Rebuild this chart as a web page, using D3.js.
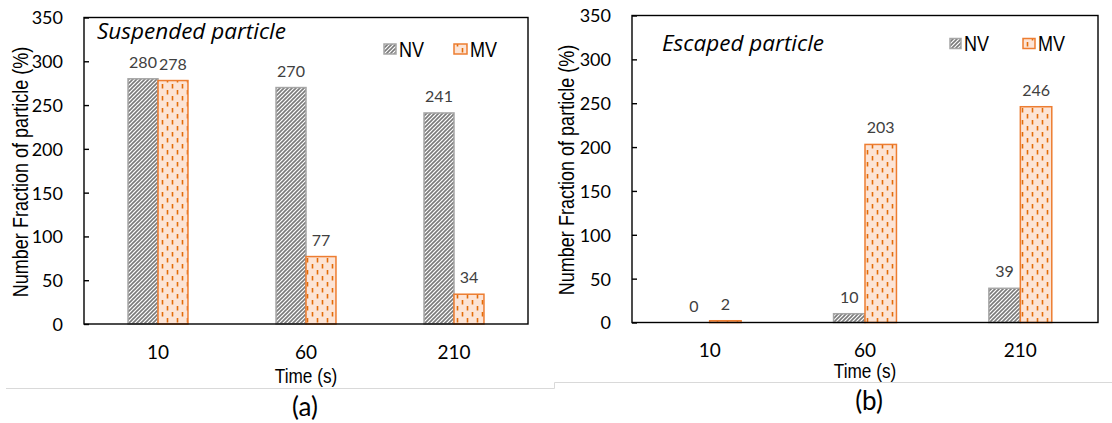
<!DOCTYPE html>
<html>
<head>
<meta charset="utf-8">
<script src="https://cdn.jsdelivr.net/npm/d3@7"></script>
<style>
  html, body { margin: 0; padding: 0; background: #fff; }
  svg { display: block; }
  .num { font-family: Lato, "Open Sans", sans-serif; }
  .head { font-family: "Open Sans", Lato, sans-serif; }
  .narrow { font-family: "Liberation Sans", Arial, sans-serif; }
</style>
</head>
<body>
<svg id="chart" width="1112" height="423"></svg>
<script>
// Time points on the x axis
const categories = ["10", "60", "210"];
const seriesNames = ["NV", "MV"];

// Suspended particle counts (panel a)
const suspendedNV = [280, 270, 241];
const suspendedMV = [278, 77, 34];

// Escaped particle counts (panel b)
const escapedNV = [0, 10, 39];
const escapedMV = [2, 203, 246];

// Y axis ticks shared by both panels
const yTicks = [0, 50, 100, 150, 200, 250, 300, 350];

// horizontal squeeze that gives Liberation Sans an Arial Narrow look
const NARROW = 0.82;

const svg = d3.select("#chart");
const defs = svg.append("defs");

// Diagonal hatch for NV bars
const hatch = defs.append("pattern")
  .attr("id", "hatchNV").attr("patternUnits", "userSpaceOnUse")
  .attr("width", 4).attr("height", 4);
hatch.append("rect").attr("width", 4).attr("height", 4).attr("fill", "#ffffff");
hatch.append("path").attr("d", "M-1,1 l2,-2 M0,4 l4,-4 M3,5 l2,-2")
  .attr("stroke", "#7a7a7a").attr("stroke-width", 1.6);

// Staggered vertical dashes for MV bars
const dash = defs.append("pattern")
  .attr("id", "dashMV").attr("patternUnits", "userSpaceOnUse")
  .attr("width", 10).attr("height", 12);
dash.append("rect").attr("width", 10).attr("height", 12).attr("fill", "#fce4d6");
dash.append("path").attr("d", "M2.5,0 v4.5 M7.5,6 v4.5")
  .attr("stroke", "#e36c0a").attr("stroke-width", 1.6);

const fills = { NV: "url(#hatchNV)", MV: "url(#dashMV)" };
const strokes = { NV: "#a6a6a6", MV: "#ed7d31" };

function narrowText(g, x, y, rotate, size, anchor, str) {
  return g.append("text").attr("class", "narrow")
    .attr("transform", `translate(${x},${y})${rotate ? " rotate(-90)" : ""} scale(${NARROW},1)`)
    .attr("text-anchor", anchor).attr("font-size", size).attr("fill", "#000")
    .text(str);
}

function drawPanel(p) {
  const g = svg.append("g");
  const x = d3.scaleBand().domain(categories)
    .range([p.left, p.right]).paddingInner(0.595).paddingOuter(0.2975);
  const xs = d3.scaleBand().domain(seriesNames).range([0, x.bandwidth()]);
  const y = d3.scaleLinear().domain([0, 350]).range([p.bottom, p.top]);

  const rows = categories.map((c, i) => ({ c, NV: p.nv[i], MV: p.mv[i] }));

  // bars
  seriesNames.forEach(s => {
    g.selectAll(null).data(rows).join("rect")
      .attr("x", d => x(d.c) + xs(s))
      .attr("y", d => y(d[s]))
      .attr("width", xs.bandwidth())
      .attr("height", d => y(0) - y(d[s]))
      .attr("fill", fills[s])
      .attr("stroke", strokes[s])
      .attr("stroke-width", 1.5);
  });

  // value labels
  seriesNames.forEach(s => {
    g.selectAll(null).data(rows).join("text")
      .attr("class", "num")
      .attr("x", d => x(d.c) + xs(s) + xs.bandwidth() / 2)
      .attr("y", d => y(d[s]) - 11)
      .attr("text-anchor", "middle")
      .attr("font-size", p.labelSize)
      .attr("fill", "#404040")
      .text(d => d[s]);
  });

  // frame
  g.append("rect")
    .attr("x", p.left).attr("y", p.top)
    .attr("width", p.right - p.left).attr("height", p.bottom - p.top)
    .attr("fill", "none").attr("stroke", "#000").attr("stroke-width", 1.4);

  // y axis with inward ticks
  const yAxis = d3.axisLeft(y).tickValues(yTicks).tickSize(-5).tickPadding(21);
  const ya = g.append("g").attr("transform", `translate(${p.left},0)`).call(yAxis);
  ya.select(".domain").remove();
  ya.selectAll(".tick line").attr("stroke", "#000").attr("stroke-width", 1.4);
  ya.selectAll(".tick text").attr("class", "num")
    .attr("font-size", p.yTickSize).attr("fill", "#000").attr("dy", "0.36em");

  // x axis labels
  const xAxis = d3.axisBottom(x).tickSize(0).tickPadding(0);
  const xa = g.append("g").attr("transform", `translate(0,${p.xTickY})`).call(xAxis);
  xa.select(".domain").remove();
  xa.selectAll(".tick text").attr("class", "num")
    .attr("font-size", p.xTickSize).attr("fill", "#000").attr("dy", 0);

  // axis titles
  narrowText(g, (p.left + p.right) / 2, p.xTitleY, false, 21, "middle", "Time (s)");
  narrowText(g, p.yTitleX, p.yTitleCY, true, 22, "middle", "Number Fraction of particle (%)");

  // panel heading
  g.append("text").attr("class", "head")
    .attr("x", p.titleX).attr("y", p.titleY)
    .attr("font-style", "italic").attr("font-size", p.titleSize).attr("fill", "#000")
    .text(p.title);

  // legend
  p.legend.forEach((L, i) => {
    const s = seriesNames[i];
    g.append("rect").attr("x", L.x).attr("y", p.legendY - L.h / 2)
      .attr("width", L.w).attr("height", L.h)
      .attr("fill", fills[s]).attr("stroke", strokes[s]).attr("stroke-width", 1.5);
    narrowText(g, L.x + L.w + 3, p.legendY + p.legendSize * 0.36, false, p.legendSize, "start", s);
  });

  // panel caption
  g.append("text").attr("class", "num")
    .attr("x", p.capX).attr("y", p.capY)
    .attr("text-anchor", "middle").attr("dy", "0.35em")
    .attr("font-size", 26).attr("fill", "#000")
    .text(p.caption);
}

drawPanel({
  left: 84, right: 528, top: 17.5, bottom: 324,
  nv: suspendedNV, mv: suspendedMV,
  labelSize: 16, yTickSize: 18, xTickSize: 19,
  xTickY: 359, xTitleY: 382.5, yTitleX: 28, yTitleCY: 172,
  title: "Suspended particle", titleX: 97, titleY: 38.5, titleSize: 22.5,
  legendY: 49, legendSize: 22,
  legend: [{ x: 384, w: 12, h: 10 }, { x: 454, w: 13, h: 10 }],
  caption: "(a)", capX: 305, capY: 407
});

drawPanel({
  left: 632, right: 1098, top: 15.5, bottom: 322.5,
  nv: escapedNV, mv: escapedMV,
  labelSize: 16, yTickSize: 18, xTickSize: 19,
  xTickY: 356.5, xTitleY: 378, yTitleX: 574, yTitleCY: 170,
  title: "Escaped particle", titleX: 662, titleY: 51, titleSize: 22.5,
  legendY: 43.5, legendSize: 22,
  legend: [{ x: 950, w: 11, h: 10 }, { x: 1023, w: 12, h: 10 }],
  caption: "(b)", capX: 869, capY: 401
});

// thin separators under the two panels
svg.append("path")
  .attr("d", "M6,388.5 H554.5 V382.5 H1112")
  .attr("fill", "none").attr("stroke", "#d9d9d9").attr("stroke-width", 1);
</script>
</body>
</html>
